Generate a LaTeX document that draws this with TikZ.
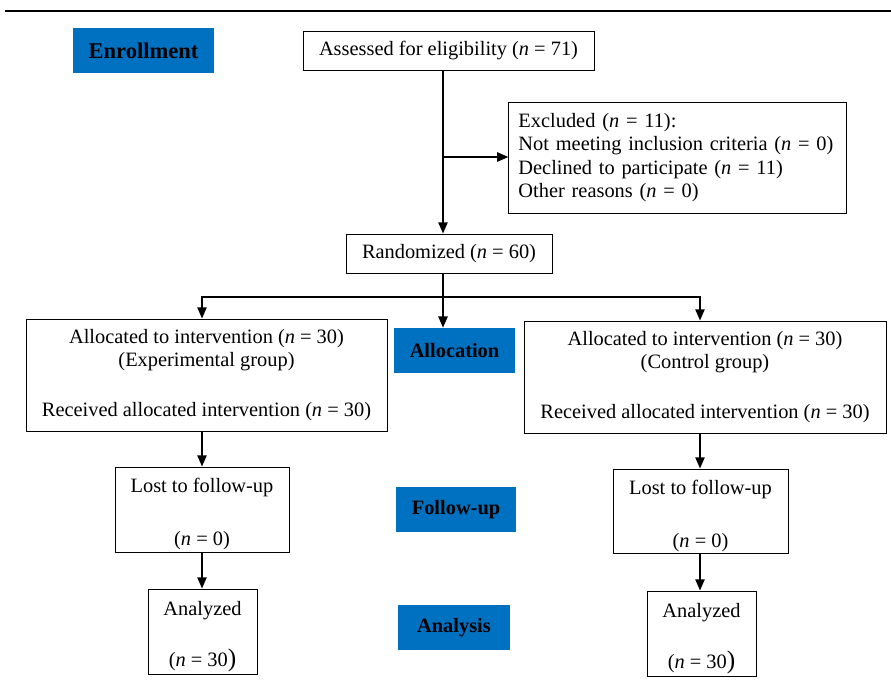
\documentclass[tikz,border=0pt]{standalone}
\usepackage{fontspec}
\setmainfont{Liberation Serif}
\usetikzlibrary{arrows.meta}
\definecolor{phaseblue}{HTML}{0070C0}
\newcommand{\ncount}[1]{(\textit{n} = #1)}

\begin{document}
\begin{tikzpicture}[x=0.025cm,y=-0.025cm,>={Triangle[length=8pt,width=6.5pt]},
  font=\fontsize{14.5}{16.5}\selectfont,
  box/.style={draw,line width=0.6pt,align=center,inner sep=0pt},
  phase/.style={fill=phaseblue,inner sep=0pt,font=\fontsize{14.5}{16.5}\selectfont\bfseries},
  flow/.style={->,line width=1.4pt}]

  \useasboundingbox (0,0) rectangle (891,688);
  \draw[line width=0.8pt] (5,11) -- (891,11);

  % phase labels
  \node[phase,minimum width=3.525cm,minimum height=1.125cm,font=\fontsize{16}{18}\selectfont\bfseries] (enroll) at (143.5,50.5) {Enrollment};
  \node[phase,minimum width=3.025cm,minimum height=1.125cm] (alloc) at (454.5,350.5) {Allocation};
  \node[phase,minimum width=3cm,minimum height=1.125cm] (follow) at (456,509.5) {Follow-up};
  \node[phase,minimum width=2.8cm,minimum height=1.125cm] (analysis) at (454,627.5) {Analysis};

  % boxes
  \node[box,minimum width=7.275cm,minimum height=0.975cm] (assessed) at (448.5,50.5) {Assessed for eligibility \ncount{71}};
  \node[box,minimum width=8.425cm,minimum height=2.775cm,align=left,inner xsep=0.24cm,text width=7.95cm] (excluded) at (677.5,157.5)
    {Excluded \ncount{11}:\\Not meeting inclusion criteria \ncount{0}\\Declined to participate \ncount{11}\\Other reasons \ncount{0}};
  \node[box,minimum width=5.15cm,minimum height=0.975cm] (random) at (449,253.5) {Randomized \ncount{60}};
  \node[box,minimum width=9.025cm,minimum height=2.8cm] (allocL) at (206.5,375)
    {Allocated to intervention \ncount{30}\\(Experimental group)\\[18.5pt]Received allocated intervention \ncount{30}};
  \node[box,minimum width=9.05cm,minimum height=2.8cm] (allocR) at (705,377)
    {Allocated to intervention \ncount{30}\\(Control group)\\[18.5pt]Received allocated intervention \ncount{30}};
  \node[box,minimum width=4.35cm,minimum height=2.125cm] (lostL) at (202,509.5) {\rule{0pt}{17pt}Lost to follow-up\\[21pt]\ncount{0}};
  \node[box,minimum width=4.375cm,minimum height=2.1cm] (lostR) at (700.5,511) {\rule{0pt}{17pt}Lost to follow-up\\[21pt]\ncount{0}};
  \node[box,minimum width=2.725cm,minimum height=2.125cm] (anL) at (202.5,631.5) {\rule{0pt}{17pt}Analyzed\\[20pt](\textit{n} = 30{\fontsize{18}{18}\selectfont)}};
  \node[box,minimum width=2.725cm,minimum height=2.125cm] (anR) at (701.5,633.5) {\rule{0pt}{17pt}Analyzed\\[20pt](\textit{n} = 30{\fontsize{18}{18}\selectfont)}};

  % connectors
  \coordinate (split) at (443,157);
  \coordinate (branch) at (443,297);
  \coordinate (bl) at (202,297);
  \coordinate (br) at (700,297);
  \draw[flow] (assessed.south -| split) -- (random.north -| split);
  \draw[flow] (split) -- (excluded.west |- split);
  \draw[flow] (random.south -| split) -- (alloc.north -| split);
  \draw[flow] (branch) -| (allocL.north -| bl);
  \draw[flow] (branch) -| (allocR.north -| br);
  \draw[flow] (allocL.south -| bl) -- (lostL.north -| bl);
  \draw[flow] (allocR.south -| br) -- (lostR.north -| br);
  \draw[flow] (lostL.south -| bl) -- (anL.north -| bl);
  \draw[flow] (lostR.south -| br) -- (anR.north -| br);
\end{tikzpicture}
\end{document}
